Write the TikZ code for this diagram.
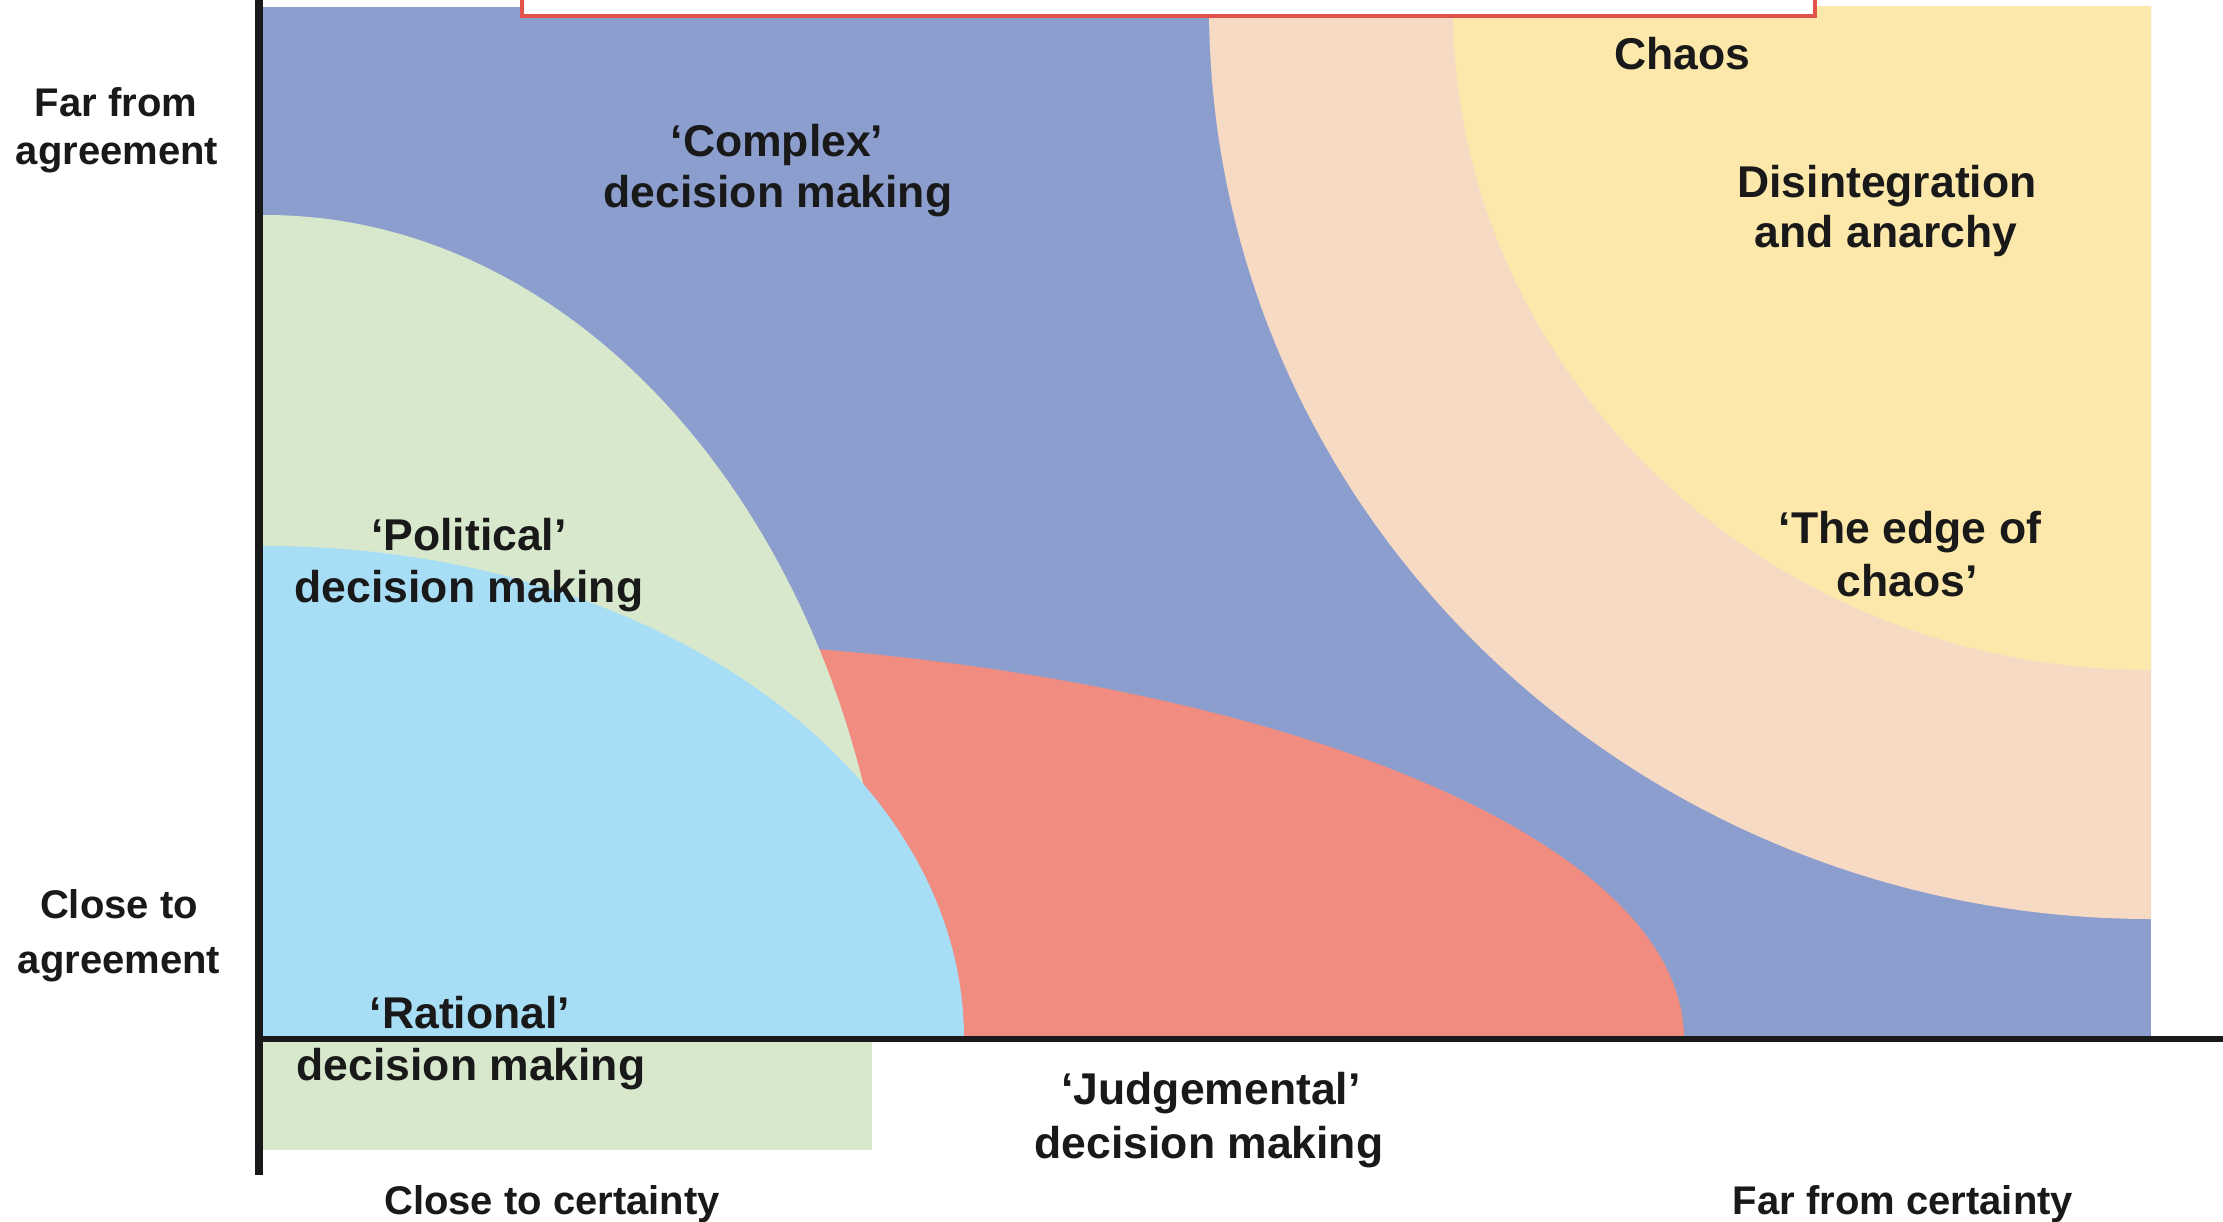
\documentclass[tikz,border=0pt]{standalone}
\usepackage{fontspec}
\setmainfont{Liberation Sans}
\definecolor{periw}{RGB}{140,158,206}
\definecolor{peach}{RGB}{247,218,196}
\definecolor{chaosy}{RGB}{252,232,170}
\definecolor{salmon}{RGB}{240,140,128}
\definecolor{polgreen}{RGB}{215,232,205}
\definecolor{ratblue}{RGB}{168,221,246}
\definecolor{boxred}{RGB}{224,82,74}
\begin{document}
\begin{tikzpicture}[x=1pt,y=-1pt,
  axl/.style={font=\bfseries\fontsize{40}{48}\selectfont,anchor=base,inner sep=0pt,text=black!90},
  reg/.style={font=\bfseries\fontsize{44.5}{50}\selectfont,anchor=base,inner sep=0pt,text=black!90},
  axisline/.style={line width=#1,black!90},
  redbox/.style={draw=boxred,line width=4pt,fill=white}]
\useasboundingbox (0,0) rectangle (2223,1222);
\fill[white] (0,0) rectangle (2223,1222);
% regions
\begin{scope}
  \clip (263,7) rectangle (2151,1039);
  \fill[periw] (263,7) rectangle (2151,1039);
  \fill[peach] (2151,7) ellipse [x radius=942, y radius=912];
  \fill[chaosy] (2151,7) ellipse [x radius=698, y radius=663];
  \fill[salmon] (567,1039) ellipse [x radius=1117, y radius=400];
  \fill[polgreen] (265,1039) ellipse [x radius=629, y radius=824];
  \fill[ratblue] (265,1039) ellipse [x radius=699, y radius=493];
\end{scope}
\fill[polgreen] (263,1039) rectangle (872,1150);
% cropped title box
\draw[redbox] (522,-20) rectangle (1815,16);
% axes
\coordinate (ytop) at (259,0);
\coordinate (ybot) at (259,1175);
\coordinate (xleft) at (255,1039);
\coordinate (xright) at (2223,1039);
\draw[axisline=8pt] (ytop) -- (ybot);
\draw[axisline=6pt] (xleft) -- (xright);
% axis labels
\node[axl] (far1) at (116,117) {Far from};
\node[axl] (far2) at (117,165) {agreement};
\node[axl] (close1) at (119,918) {Close to};
\node[axl] (close2) at (119,973) {agreement};
\node[axl] (ccert) at (552,1214) {Close to certainty};
\node[axl] (fcert) at (1903,1214) {Far from certainty};
% region labels
\node[reg] (cx1) at (777,157) {‘Complex’};
\node[reg] (cx2) at (778,208) {decision making};
\node[reg] (chaos) at (1682,70) {Chaos};
\node[reg] (dis1) at (1887,198) {Disintegration};
\node[reg] (dis2) at (1886,248) {and anarchy};
\node[reg] (edge1) at (1910,543) {‘The edge of};
\node[reg] (edge2) at (1907,596) {chaos’};
\node[reg] (pol1) at (469,550) {‘Political’};
\node[reg] (pol2) at (469,602) {decision making};
\node[reg] (rat1) at (470,1028) {‘Rational’};
\node[reg] (rat2) at (471,1080) {decision making};
\node[reg] (jud1) at (1211,1104) {‘Judgemental’};
\node[reg] (jud2) at (1209,1158) {decision making};
\end{tikzpicture}
\end{document}
